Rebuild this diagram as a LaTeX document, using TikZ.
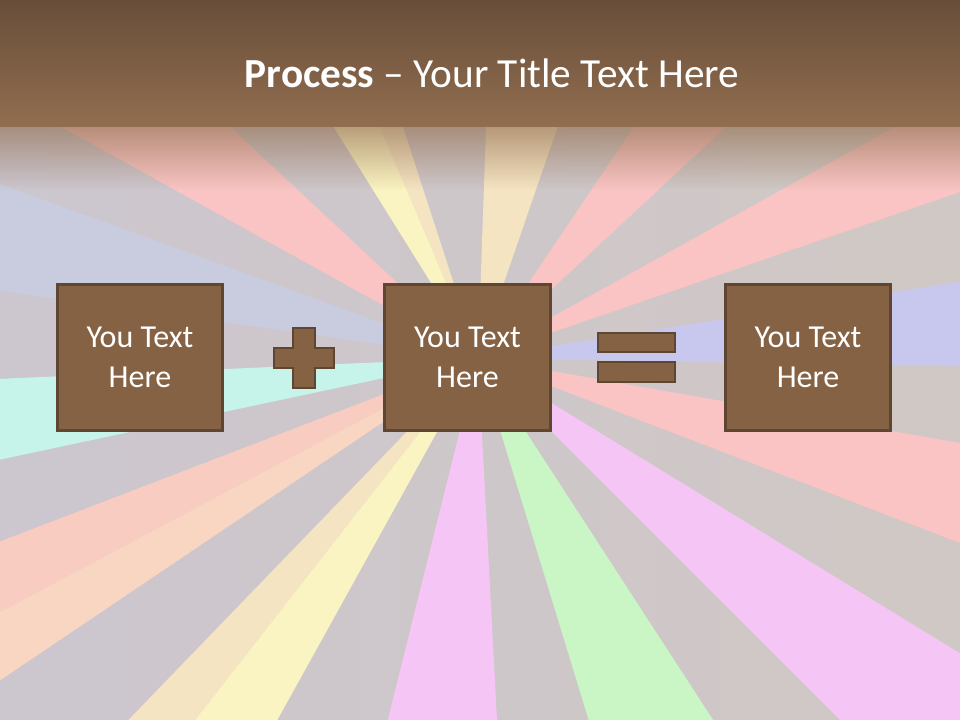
\documentclass[tikz,border=0pt]{standalone}
\usepackage{fontspec}
\setmainfont{Carlito}
\usetikzlibrary{positioning,fadings}
\definecolor{bgleft}{HTML}{CCC6CF}
\definecolor{bgright}{HTML}{D0C8C4}
\definecolor{titletop}{HTML}{684E39}
\definecolor{titlebot}{HTML}{926E50}
\definecolor{boxfill}{HTML}{866244}
\definecolor{boxline}{HTML}{5E4632}
\definecolor{raypink}{HTML}{F9C4C3}
\definecolor{raylav}{HTML}{C8C8EE}
\definecolor{raybeige}{HTML}{F5E4C2}
\definecolor{rayyellow}{HTML}{FAF3C2}
\definecolor{rayblue}{HTML}{C8CCDE}
\definecolor{raymint}{HTML}{C6F4EA}
\definecolor{raysalmon}{HTML}{F8CCC0}
\definecolor{raypeach}{HTML}{F9D6C2}
\definecolor{raymagenta}{HTML}{F5C6F5}
\definecolor{raygreen}{HTML}{CAF6C6}
\tikzfading[name=titlefade, top color=transparent!20, bottom color=transparent!100]

\begin{document}
\begin{tikzpicture}[x=0.75pt, y=0.75pt,
    txtbox/.style={draw=boxline, fill=boxfill, line width=2.25pt, inner sep=0pt,
      minimum width=124pt, minimum height=110pt, text=white, align=center,
      font=\fontsize{24}{30}\selectfont},
    opsign/.style={draw=boxline, fill=boxfill, line width=1.8pt}]
  \useasboundingbox (0,0) rectangle (960,720);

  % Background with rays
  \shade[left color=bgleft, right color=bgright] (0,0) rectangle (960,720);
  \coordinate (ctr) at (478,362);
  \begin{scope}
    \clip (0,0) rectangle (960,720);
    \foreach \a/\b/\c in {-1/9/raylav, 19/29/raypink, 43/56/raypink, 71/88/raybeige,
        108/113/raybeige, 113/122/rayyellow, 137/151/raypink, 160/172/rayblue,
        182.5/192/raymint, 201/208/raysalmon, 208/214/raypeach, 226/232/raybeige,
        232/241/rayyellow, 256/273/raymagenta, 287/303/raygreen,
        315/328.5/raymagenta, 339/350/raypink}
      \fill[\c, shift={(ctr)}] (0,0) -- (\a:1200) -- (\b:1200) -- cycle;
  \end{scope}

  % Title bar
  \fill[titlebot, path fading=titlefade] (0,610) rectangle (960,530);
  \shade[top color=titletop, bottom color=titlebot] (0,593) rectangle (960,720);
  \node[anchor=base, text=white, font=\fontsize{31}{37}\selectfont] (title) at (492,632)
    {\textbf{Process} – Your Title Text Here};

  % Boxes
  \node[txtbox] (lhs) at (140,362.5) {You Text\\Here};
  \node[txtbox] (mid) at (467.5,362.5) {You Text\\Here};
  \node[txtbox] (rhs) at (808,362.5) {You Text\\Here};

  % Plus and equals
  \draw[opsign] (293,392) -- (315,392) -- (315,372) -- (334,372) -- (334,352) -- (315,352)
    -- (315,332) -- (293,332) -- (293,352) -- (274,352) -- (274,372) -- (293,372) -- cycle;
  \draw[opsign] (598,368) rectangle (675,387);
  \draw[opsign] (598,338) rectangle (675,358);
\end{tikzpicture}
\end{document}
